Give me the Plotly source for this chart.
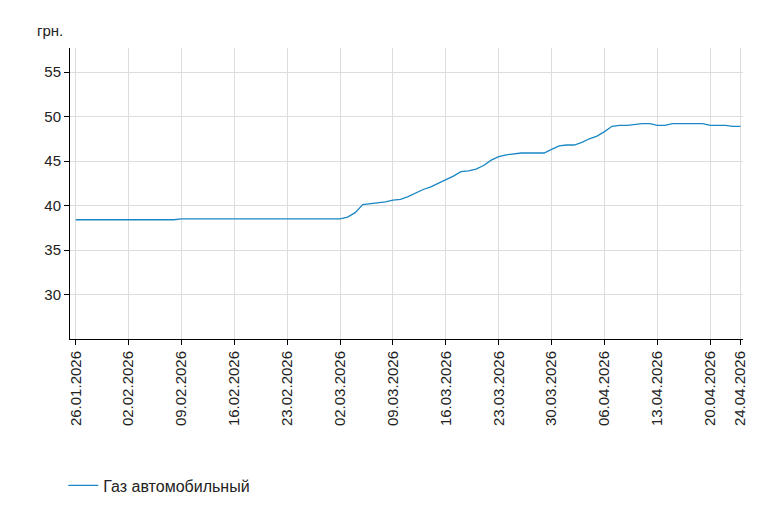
import plotly.graph_objects as go
import pandas as pd

dates = pd.date_range("2026-01-26", "2026-04-24", freq="D")
jan_feb_low = [38.4]*14
feb_mar_flat = [38.5]*22
march = [38.7,39.2,40.1,40.2,40.3,40.4,40.6,40.7,41.0,41.4,41.8,42.1,42.5,42.9,43.3,
         43.8,43.9,44.1,44.5,45.1,45.5,45.7,45.8,45.9,45.9,45.9,45.9,46.3,46.7]
april = [46.8,46.8,47.1,47.5,47.8,48.3,48.9,49.0,49.0,49.1,49.2,49.2,49.0,49.0,49.2,
         49.2,49.2,49.2,49.2,49.0,49.0,49.0,48.9,48.9]
values = jan_feb_low + feb_mar_flat + march + april
tick_dates = ["2026-01-26","2026-02-02","2026-02-09","2026-02-16","2026-02-23","2026-03-02",
              "2026-03-09","2026-03-16","2026-03-23","2026-03-30","2026-04-06","2026-04-13",
              "2026-04-20","2026-04-24"]
tick_text = [pd.Timestamp(d).strftime("%d.%m.%Y") for d in tick_dates]
series_name = "Газ автомобильный"

fig = go.Figure(go.Scatter(x=dates, y=values, mode="lines", name=series_name,
                           line=dict(color="#1a87c4", width=1.3)))
fig.update_layout(
    width=769, height=507, margin=dict(l=62, r=34, t=40, b=172),
    plot_bgcolor="white", paper_bgcolor="white",
    font=dict(family="Liberation Sans, Arial", size=14, color="#222"),
    showlegend=True,
    legend=dict(orientation="h", x=-0.01, y=-0.445, yanchor="top", xanchor="left",
                font=dict(size=16)),
    annotations=[dict(text="грн.", xref="paper", yref="paper", x=-0.052, y=1.025,
                      xanchor="left", yanchor="bottom", showarrow=False, font=dict(size=15))],
)
fig.update_xaxes(range=["2026-01-25 06:00", "2026-04-24 08:00"], tickvals=tick_dates,
                 ticktext=tick_text, tickangle=-90, showgrid=True, gridcolor="#dddddd",
                 showline=True, linecolor="black", ticks="outside", ticklen=5,
                 tickcolor="black", tickfont=dict(size=15), automargin=False)
fig.update_yaxes(range=[25, 57.7], tickvals=[30,35,40,45,50,55], showgrid=True,
                 gridcolor="#dddddd", showline=True, linecolor="black", ticks="outside",
                 ticklen=5, tickcolor="black", zeroline=False, tickfont=dict(size=15),
                 automargin=False)
fig.write_html("out.html")
